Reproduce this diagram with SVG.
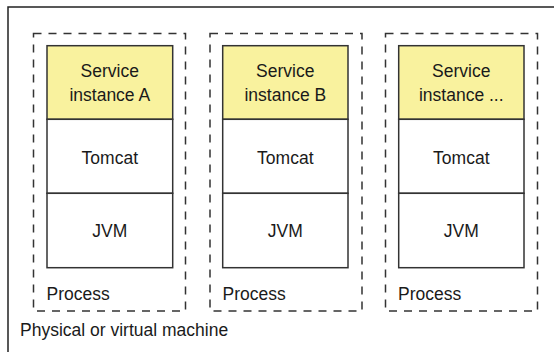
<svg xmlns="http://www.w3.org/2000/svg" width="554" height="352" viewBox="0 0 554 352">
<style>
.outer{fill:#fff;stroke:#222;stroke-width:1.5}
.proc{fill:none;stroke:#333;stroke-width:1.5;stroke-dasharray:8 7}
.cell{fill:#fff;stroke:#333;stroke-width:1.5}
.svc{fill:#f9f29e;stroke:#333;stroke-width:1.5}
text{font-family:"Liberation Sans",Arial,sans-serif;font-size:17.5px;fill:#1a1a1a}
.c{text-anchor:middle}
</style>
<rect width="554" height="352" fill="#fff"/>
<g id="machine">
<rect class="outer" x="8" y="7" width="560" height="360"/>
<text x="20" y="336">Physical or virtual machine</text>
</g>
<g id="processA">
<rect class="proc" x="33.5" y="33.5" width="152" height="277.5"/>
<text x="46.5" y="299.5">Process</text>
</g>
<g id="serviceA"><rect class="svc" x="47" y="45.7" width="125.7" height="73.6"/><text class="c" x="109.8" y="77.3">Service</text><text class="c" x="109.8" y="101">instance A</text></g>
<g id="tomcatA"><rect class="cell" x="47" y="119.3" width="125.7" height="74"/><text class="c" x="109.8" y="164">Tomcat</text></g>
<g id="jvmA"><rect class="cell" x="47" y="193.3" width="125.7" height="74.4"/><text class="c" x="109.8" y="237.3">JVM</text></g>
<g id="processB">
<rect class="proc" x="210" y="33.5" width="152" height="277.5"/>
<text x="222.5" y="299.5">Process</text>
</g>
<g id="serviceB"><rect class="svc" x="222.7" y="45.7" width="125.3" height="73.6"/><text class="c" x="285.3" y="77.3">Service</text><text class="c" x="285.3" y="101">instance B</text></g>
<g id="tomcatB"><rect class="cell" x="222.7" y="119.3" width="125.3" height="74"/><text class="c" x="285.3" y="164">Tomcat</text></g>
<g id="jvmB"><rect class="cell" x="222.7" y="193.3" width="125.3" height="74.4"/><text class="c" x="285.3" y="237.3">JVM</text></g>
<g id="processC">
<rect class="proc" x="385.5" y="33.5" width="152" height="277.5"/>
<text x="398" y="299.5">Process</text>
</g>
<g id="serviceC"><rect class="svc" x="398.7" y="45.7" width="125.3" height="73.6"/><text class="c" x="461.3" y="77.3">Service</text><text class="c" x="461.3" y="101">instance ...</text></g>
<g id="tomcatC"><rect class="cell" x="398.7" y="119.3" width="125.3" height="74"/><text class="c" x="461.3" y="164">Tomcat</text></g>
<g id="jvmC"><rect class="cell" x="398.7" y="193.3" width="125.3" height="74.4"/><text class="c" x="461.3" y="237.3">JVM</text></g>
<g id="connectors"></g>
</svg>
